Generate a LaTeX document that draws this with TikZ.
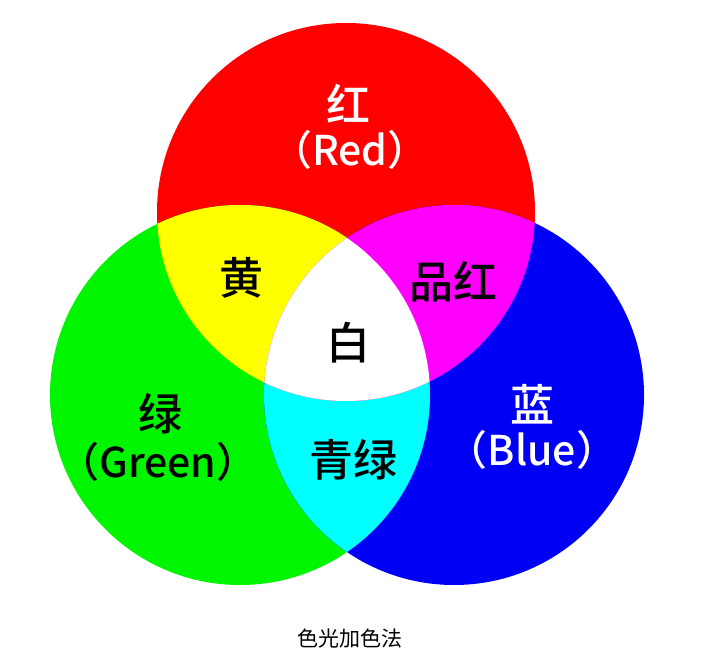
\documentclass[tikz,border=0pt]{standalone}
\usepackage{fontspec}
\newfontfamily\cjk{Noto Sans CJK SC}
\newfontfamily\cjkm{Noto Sans CJK SC Medium}
\definecolor{cR}{RGB}{255,0,0}
\definecolor{cG}{RGB}{0,245,0}
\definecolor{cB}{RGB}{0,0,245}
\definecolor{cY}{RGB}{255,255,0}
\definecolor{cM}{RGB}{255,0,255}
\definecolor{cC}{RGB}{0,255,255}
\tikzset{
  big/.style={font=\cjkm\fontsize{44}{44}\selectfont, inner sep=0pt},
  latin/.style={font=\cjkm\fontsize{41}{41}\selectfont, inner sep=0pt},
  wtext/.style={text=white},
  btext/.style={text=black},
}
\begin{document}
\begin{tikzpicture}[x=1pt,y=-1pt]
\useasboundingbox (0,0) rectangle (706,658);
\fill[white] (0,0) rectangle (706,658);
\coordinate (R) at (346,212);
\coordinate (G) at (240,395);
\coordinate (B) at (454,395);
% base discs
\fill[cR] (R) circle[radius=189pt];
\fill[cG] (G) circle[radius=190pt];
\fill[cB] (B) circle[radius=190pt];
% pairwise overlaps
\begin{scope}
  \clip (G) circle[radius=190pt];
  \fill[cC] (B) circle[radius=190pt];
\end{scope}
\begin{scope}
  \clip (R) circle[radius=189pt];
  \fill[cY] (G) circle[radius=190pt];
  \fill[cM] (B) circle[radius=190pt];
  \clip (G) circle[radius=190pt];
  \fill[white] (B) circle[radius=190pt];
\end{scope}
% labels
\node[big,wtext] (tred) at (348,104) {红};
\node[latin,wtext] (tredl) at (350,150) {（Red）};
\node[big,btext] (tyel) at (241,278) {黄};
\node[big,btext] (tmag) at (453,282) {品红};
\node[big,btext] (twhi) at (348,343) {白};
\node[big,btext] (tgre) at (160,414) {绿};
\node[latin,btext] (tgrel) at (158,462) {（Green）};
\node[big,btext] (tcya) at (353,460) {青绿};
\node[big,wtext] (tblu) at (532,404) {蓝};
\node[latin,wtext] (tblul) at (532,450) {（Blue）};
\node[font=\cjk\fontsize{21}{21}\selectfont, inner sep=0pt] (cap) at (350,638) {色光加色法};
\end{tikzpicture}
\end{document}
